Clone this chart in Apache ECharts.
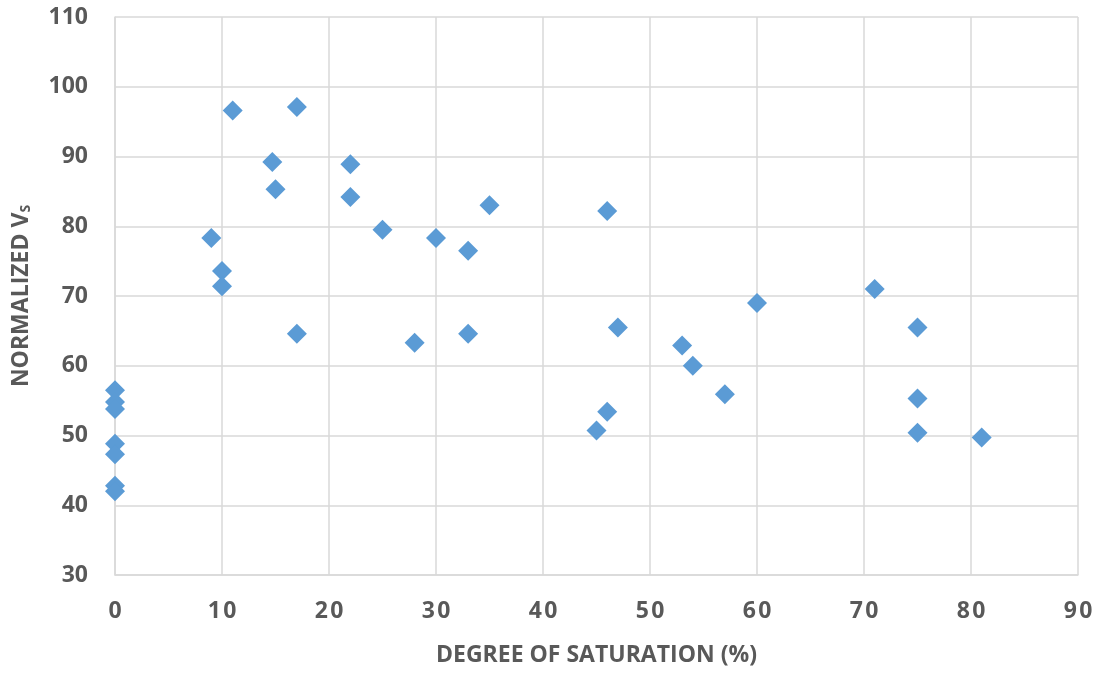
<!DOCTYPE html>
<html><head><meta charset="utf-8">
<script src="https://cdn.jsdelivr.net/npm/echarts@6/dist/echarts.min.js"></script>
<style>html,body{margin:0;padding:0;background:#fff}#c{width:1106px;height:675px}</style>
</head><body><div id="c"></div>
<script>
const saturation = [0,0,0,0,0,0,0, 9,10,10,11,14.7,15,17,17,22,22,25,28,30,33,33,35,45,46,46,47,53,54,57,60,71,75,75,75,81];
const normalizedVs = [56.5,54.8,53.8,48.8,47.3,42.8,42.0, 78.3,73.6,71.4,96.6,89.2,85.3,97.1,64.6,88.9,84.2,79.5,63.3,78.3,76.5,64.6,83.0,50.7,82.2,53.4,65.5,62.9,60.0,55.9,69.0,71.0,65.5,55.3,50.4,49.7];
const xTitle = 'DEGREE OF SATURATION (%)';
const yTitleMain = 'NORMALIZED V';
const yTitleSub = 'S';

const data = saturation.map((x,i)=>[x, normalizedVs[i]]);
const chart = echarts.init(document.getElementById('c'));
const FF = 'Open Sans, Lato, sans-serif';
const labelStyle = {color:'#595959', fontFamily:FF, fontWeight:'bold', fontSize:23};
chart.setOption({
  animation:false,
  grid:{left:115, right:28, top:17, bottom:100},
  xAxis:{type:'value', min:0, max:90, interval:10,
    name:xTitle, nameLocation:'middle', nameGap:69,
    nameTextStyle:{color:'#595959', fontFamily:FF, fontWeight:'bold', fontSize:23},
    axisLine:{show:true, lineStyle:{color:'#d9d9d9', width:1.5}},
    axisTick:{show:false},
    axisLabel:Object.assign({margin:25, formatter:v=>String(v).split('').join('\u200a')}, labelStyle),
    splitLine:{show:true, lineStyle:{color:'#d9d9d9', width:1.5}}},
  yAxis:{type:'value', min:30, max:110, interval:10,
    name:'{m|'+yTitleMain+'}{s|'+yTitleSub+'}', nameLocation:'middle', nameGap:82, nameRotate:90,
    nameTextStyle:{rich:{
      m:{color:'#595959', fontFamily:FF, fontWeight:'bold', fontSize:23},
      s:{color:'#595959', fontFamily:FF, fontWeight:'bold', fontSize:14, verticalAlign:'bottom', padding:[10,0,0,0]}}},
    axisLine:{show:true, lineStyle:{color:'#d9d9d9', width:1.5}},
    axisTick:{show:false},
    axisLabel:Object.assign({margin:27}, labelStyle),
    splitLine:{show:true, lineStyle:{color:'#d9d9d9', width:1.5}}},
  series:[{type:'scatter', symbol:'diamond', symbolSize:20, data:data,
    itemStyle:{color:'#5B9BD5', opacity:1}}]
});
</script></body></html>
